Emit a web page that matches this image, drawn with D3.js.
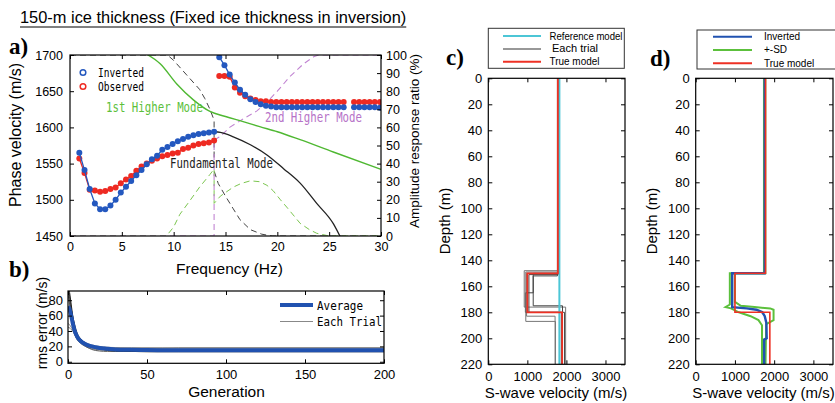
<!DOCTYPE html>
<html><head><meta charset="utf-8">
<script src="https://cdn.jsdelivr.net/npm/d3@7"></script>
<style>
body{margin:0;background:#fff}
svg{display:block}
text{font-family:"Liberation Sans",Arial,sans-serif;fill:#000}
.mono{font-family:"DejaVu Sans Mono","Liberation Mono",monospace}
.lbl{font-family:"Liberation Serif","Times New Roman",serif;font-weight:bold}
</style>
</head><body>
<svg id="chart" width="835" height="403"></svg>
<script>
// ---------- Panel a data ----------
const fundFreq = [0.9,1.4,1.9,2.4,2.9,3.4,3.9,4.4,4.9,5.4,5.9,6.4,6.9,7.4,7.9,8.4,8.9,9.4,9.9,10.4,10.9,11.4,11.9,12.4,12.9,13.4,13.9];
const fundInverted = [1565,1541,1515,1495,1487,1487,1492,1500,1510,1518,1526,1534,1541,1549,1556,1561,1569,1573,1577,1581,1584,1587,1589,1591,1592,1593,1594];
const fundObserved = [1557,1537,1514,1513,1511,1512,1515,1517,1523,1528,1533,1540,1546,1550,1554,1557,1560,1562,1564,1565,1570,1572,1575,1577,1578,1579,1582];
const secFreq = [14.4,14.9,15.4,15.9,16.4,16.9,17.4,17.9,18.4,18.9,19.4,19.9,20.4,20.9,21.4,21.9,22.4,22.9,23.4,23.9,24.4,24.9,25.4,25.9,26.4,26.9,27.4,27.9,28.4,28.9,29.4,29.9];
const secInverted = [1697,1686,1673,1662,1652,1645,1639,1635,1632,1630,1629,1628,1628,1628,1628,1628,1628,1628,1628,1628,1628,1628,1628,1628,1628,null,1628,1628,1628,1628,1628,1627];
const secObserved = [1671,1671,1670,1655,1648,1643,1640,1638,1636,1636,1635,1635,1635,1635,1635,1635,1635,1635,1635,1635,1635,1635,1635,1635,1635,null,1635,1635,1635,1635,1635,1635];
const firstModeFreq = [7.3,8.7,10.3,11.9,13.5,15,16.7,18.3,20,22.2,25.4,30];
const firstModeVel = [1702,1688,1660,1638,1622,1615,1608,1601,1594,1583,1566,1542];
const fundModeFreq = [13.9,14.5,15.75,17.4,19,20.6,22.2,23.8,25.4,26.1];
const fundModeVel = [1594,1593,1587,1576,1562,1543,1523,1495,1467,1448];
const ampFundFreq = [0,9.4,10,11.25,12.5,13,13.5,13.9,13.9,14.3,15,15.75,16.4,17.4,18.5,19.5,30];
const ampFund = [100,100,97,89,81,76,70,64,36,29,22,15,9,3.5,1,0,0];
const ampFirstFreq = [0,9.3,10,10.6,11.5,12.5,13.5,13.9,13.9,14.5,15.75,16.5,17.4,18.3,19,19.6,20.3,20.9,22.2,23.1,23.8,25,30];
const ampFirst = [0,0,5,12,19,27,34,37,18,22,27,29,30.5,30,28,25,20,16,7,3.5,1.5,0,0];
const ampSecondFreq = [0,13.9,13.9,14.5,15.4,16.5,18,19,20,21.2,22.5,23.5,24,30];
const ampSecond = [0,0,53,55,60,64,69,74,80,88,95,99,100,100];
const aXTicks = [0,5,10,15,20,25,30];
const aYTicks = [1450,1500,1550,1600,1650,1700];
const aRTicks = [0,10,20,30,40,50,60,70,80,90,100];

// ---------- Panel b data ----------
const generations = [0,1,2,3,4,5,6,8,10,12,15,20,25,30,40,50,70,100,150,200];
const rmsAverage = [72,68,60,50,42,36,32,27,24,22,20,18,17,16,15.5,15.2,15,15,15,15];
const rmsTrials = [
  [95,85,70,58,48,40,34,28,25,22,20,18,17.5,17.5,17.5,17.5,18,18,18,18],
  [92,80,62,50,40,34,30,25,22,20,18,16,15,14.5,14,14,14,14,14,14],
  [45,44,42,40,36,32,29,25,22,19,17,15.5,15,14.5,14.5,14.5,14.5,14.5,14.5,14.5],
  [88,75,60,48,38,32,28,24,21,19,16,14,13.5,13.5,13.5,13.5,13.5,13.5,13.5,13.5],
  [70,66,58,49,42,37,33,29,26,24,22,20,19,18.5,18.5,18.5,18,18,18,18],
  [93,82,66,52,43,37,31,26,23,21,19,17,16.5,16,16,15.5,15.5,15.5,15.5,15.5],
  [50,48,45,41,37,33,30,27,24,22,21,19,18,18,17,17,16.5,16.5,16.5,16.5],
  [98,90,75,60,50,42,36,30,26,23,20,17,15,14,13.5,13,13,13,13,13]
];
const trialShade = ["#333","#888","#777","#555","#999","#444","#888","#222"];
const bXTicks = [0,50,100,150,200];
const bYTicks = [0,20,40,60,80];

// ---------- Panel c / d data ----------
const depthTicks = [0,20,40,60,80,100,120,140,160,180,200,220];
const velTicks = [0,1000,2000,3000];
const trueDepths = [0,150,180,220];
const trueVels = [1780,1000,1890];
const refDepths = [0,220];
const refVels = [1820];
const trialDepths = [
  [0,148,176,220],[0,152,175,220],[0,150,183,220],[0,150,165,180,220],[0,149,187,220],[0,151,180,220]
];
const trialVels = [
  [1780,920,1980],[1770,1150,1900],[1785,980,1710],[1775,1150,950,1950],[1780,960,1720],[1790,1040,1870]
];
const invDepth = [0,150,150,176,177,178,180,183,188,200,201,220];
const invVel = [1760,1760,930,930,1300,1550,1700,1760,1800,1810,1745,1745];
const sdLowDepth = [0,150,150,174,176,177,180,183,186,190,220];
const sdLowVel = [1740,1740,870,870,760,900,1100,1400,1600,1690,1690];
const sdHighDepth = [0,150,150,172,175,176,177,178,186,189,200,220];
const sdHighVel = [1775,1775,1000,1000,1150,1500,1900,1985,1985,1800,1790,1780];

// ---------- drawing ----------
const svg = d3.select("#chart");
const defs = svg.append("defs");
const fmt = d3.format("d");

function frameAxes(g, x, y, opts){
  const [x0,x1] = x.range();
  const yb = Math.max(...y.range()), yt = Math.min(...y.range());
  const st = sel => { sel.select(".domain").remove(); sel.selectAll("text").style("font-size", opts.fs+"px"); sel.selectAll("line").attr("stroke","#000"); };
  g.append("g").attr("transform",`translate(0,${yb})`)
    .call(d3.axisBottom(x).tickValues(opts.xt).tickFormat(fmt).tickSize(-4).tickPadding(opts.xpad)).call(st);
  g.append("g").attr("transform",`translate(0,${yt})`)
    .call(d3.axisTop(x).tickValues(opts.xt).tickSize(-4).tickFormat("")).call(st);
  g.append("g").attr("transform",`translate(${x0},0)`)
    .call(d3.axisLeft(y).tickValues(opts.yt).tickFormat(fmt).tickSize(-4).tickPadding(opts.ypad)).call(st);
  if (opts.rt) {
    g.append("g").attr("transform",`translate(${x1},0)`)
      .call(d3.axisRight(opts.rs).tickValues(opts.rt).tickFormat(fmt).tickSize(-4).tickPadding(5)).call(st);
  } else {
    g.append("g").attr("transform",`translate(${x1},0)`)
      .call(d3.axisRight(y).tickValues(opts.yt).tickSize(-4).tickFormat("")).call(st);
  }
  g.append("rect").attr("x",x0).attr("y",yt).attr("width",x1-x0).attr("height",yb-yt)
    .attr("fill","none").attr("stroke","#000").attr("stroke-width",1.2);
}
function clip(id,x,y){
  const [x0,x1]=x.range();
  const yb = Math.max(...y.range()), yt = Math.min(...y.range());
  defs.append("clipPath").attr("id",id).append("rect")
    .attr("x",x0).attr("y",yt).attr("width",x1-x0).attr("height",yb-yt);
  return `url(#${id})`;
}

// Title
const title = svg.append("text").attr("x",20).attr("y",23).style("font-size","16.4px")
  .text("150-m ice thickness (Fixed ice thickness in inversion)");
const tw = title.node().getComputedTextLength();
svg.append("line").attr("x1",20).attr("x2",20+tw).attr("y1",27).attr("y2",27).attr("stroke","#000").attr("stroke-width",1);

// ----- Panel a -----
const ax = d3.scaleLinear([0,30],[70,381]);
const ay = d3.scaleLinear([1450,1700],[236,55]);
const ar = d3.scaleLinear([0,100],[236,55]);
const ga = svg.append("g");
const pa = ga.append("g").attr("clip-path", clip("ca",ax,ay));
const ampLine = (fs, vs) => d3.line().x((d,i)=>ax(fs[i])).y(d=>ar(d))(vs);
pa.append("path").attr("d",ampLine(ampFundFreq,ampFund)).attr("fill","none").attr("stroke","#444").attr("stroke-width",1).attr("stroke-dasharray","6,4");
pa.append("path").attr("d",ampLine(ampFirstFreq,ampFirst)).attr("fill","none").attr("stroke","#7cc650").attr("stroke-width",1).attr("stroke-dasharray","6,4");
pa.append("path").attr("d",ampLine(ampSecondFreq,ampSecond)).attr("fill","none").attr("stroke","#c184d2").attr("stroke-width",1.1).attr("stroke-dasharray","6,4");
const velLine = (fs, vs) => d3.line().defined(d=>d!=null).x((d,i)=>ax(fs[i])).y(d=>ay(d)).curve(d3.curveMonotoneX)(vs);
pa.append("path").attr("d",velLine(firstModeFreq,firstModeVel)).attr("fill","none").attr("stroke","#4fb832").attr("stroke-width",1.4);
pa.append("path").attr("d",velLine(fundModeFreq,fundModeVel)).attr("fill","none").attr("stroke","#222").attr("stroke-width",1.3);
function pts(fs, vs, col){
  const ln = d3.line().defined(d=>d!=null).x((d,i)=>ax(fs[i])).y(d=>ay(d));
  pa.append("path").attr("d",ln(vs)).attr("fill","none").attr("stroke",col).attr("stroke-width",1.3);
  pa.append("g").selectAll("circle").data(vs.map((v,i)=>[fs[i],v]).filter(d=>d[1]!=null)).join("circle")
    .attr("cx",d=>ax(d[0])).attr("cy",d=>ay(d[1])).attr("r",3).attr("fill",col);
}
pts(fundFreq,fundObserved,"#ee2a22");
pts(secFreq,secObserved,"#ee2a22");
pts(fundFreq,fundInverted,"#2458bf");
pts(secFreq,secInverted,"#2458bf");
frameAxes(ga, ax, ay, {xt:aXTicks, yt:aYTicks, fs:12.5, xpad:6, ypad:7, rt:aRTicks, rs:ar});
// legend a
ga.append("circle").attr("cx",83).attr("cy",72.5).attr("r",2.8).attr("fill","none").attr("stroke","#2458bf").attr("stroke-width",1.5);
ga.append("circle").attr("cx",83).attr("cy",86.5).attr("r",2.8).attr("fill","none").attr("stroke","#ee2a22").attr("stroke-width",1.5);
ga.append("text").attr("class","mono").attr("x",98).attr("y",77).attr("textLength",46).attr("lengthAdjust","spacingAndGlyphs").style("font-size","12px").text("Inverted");
ga.append("text").attr("class","mono").attr("x",98).attr("y",90.5).attr("textLength",46).attr("lengthAdjust","spacingAndGlyphs").style("font-size","12px").text("Observed");
ga.append("text").attr("class","mono").attr("x",106).attr("y",112).attr("textLength",97).attr("lengthAdjust","spacingAndGlyphs").style("font-size","13.5px").style("fill","#5cbf3c").text("1st Higher Mode");
ga.append("text").attr("class","mono").attr("x",170).attr("y",168).attr("textLength",103).attr("lengthAdjust","spacingAndGlyphs").style("font-size","13.5px").style("fill","#222").text("Fundamental Mode");
ga.append("text").attr("class","mono").attr("x",265).attr("y",121.5).attr("textLength",97).attr("lengthAdjust","spacingAndGlyphs").style("font-size","13.5px").style("fill","#b673c8").text("2nd Higher Mode");
ga.append("text").attr("transform","translate(21,135) rotate(-90)").attr("text-anchor","middle").style("font-size","16px").text("Phase velocity (m/s)");
ga.append("text").attr("transform","translate(419,141) rotate(-90)").attr("text-anchor","middle").style("font-size","13.5px").text("Amplitude response ratio (%)");
ga.append("text").attr("x",229.5).attr("y",274).attr("text-anchor","middle").style("font-size","15.5px").text("Frequency (Hz)");
svg.append("text").attr("class","lbl").attr("x",9).attr("y",54).style("font-size","23px").text("a)");

// ----- Panel b -----
const bx = d3.scaleLinear([0,200],[68,384]);
const by = d3.scaleLinear([-2,92],[363.3,291]);
const gb = svg.append("g");
const pb = gb.append("g").attr("clip-path", clip("cb",bx,by));
const bl = d3.line().x((d,i)=>bx(generations[i])).y(d=>by(d)).curve(d3.curveMonotoneX);
rmsTrials.forEach((t,k)=>{
  pb.append("path").attr("d",bl(t)).attr("fill","none").attr("stroke",trialShade[k]).attr("stroke-width",1);
});
pb.append("path").attr("d",bl(rmsAverage)).attr("fill","none").attr("stroke","#2152b0").attr("stroke-width",4);
frameAxes(gb, bx, by, {xt:bXTicks, yt:bYTicks, fs:13, xpad:6, ypad:5});
gb.append("line").attr("x1",280).attr("x2",313).attr("y1",305).attr("y2",305).attr("stroke","#2152b0").attr("stroke-width",4);
gb.append("line").attr("x1",280).attr("x2",313).attr("y1",321.5).attr("y2",321.5).attr("stroke","#888").attr("stroke-width",1.2);
gb.append("text").attr("class","mono").attr("x",317).attr("y",309.5).attr("textLength",46).attr("lengthAdjust","spacingAndGlyphs").style("font-size","12.5px").text("Average");
gb.append("text").attr("class","mono").attr("x",317).attr("y",326).attr("textLength",65).attr("lengthAdjust","spacingAndGlyphs").style("font-size","12.5px").text("Each Trial");
gb.append("text").attr("transform","translate(47,323) rotate(-90)").attr("text-anchor","middle").style("font-size","14px").text("rms error (m/s)");
gb.append("text").attr("x",226.5).attr("y",397).attr("text-anchor","middle").style("font-size","15.5px").text("Generation");
svg.append("text").attr("class","lbl").attr("x",9).attr("y",277).style("font-size","23px").text("b)");

// ----- Panels c / d helpers -----
function stepPoints(depths, vels){
  const out=[];
  vels.forEach((v,i)=>{ out.push([v,depths[i]]); out.push([v,depths[i+1]]); });
  return out;
}
function profilePanel(x, y, id){
  const g = svg.append("g");
  const p = g.append("g").attr("clip-path", clip(id,x,y));
  return {g,p,line:d3.line().x(d=>x(d[0])).y(d=>y(d[1]))};
}
const cy = d3.scaleLinear([0,220],[78.3,364.3]);
// ----- Panel c -----
const cx = d3.scaleLinear([0,3500],[488.3,625]);
const C = profilePanel(cx, cy, "cc");
trialDepths.forEach((dp,k)=>{
  C.p.append("path").attr("d",C.line(stepPoints(dp,trialVels[k]))).attr("fill","none")
    .attr("stroke", k%2? "#444":"#777").attr("stroke-width",1);
});
C.p.append("path").attr("d",C.line(stepPoints(refDepths,refVels))).attr("fill","none").attr("stroke","#4cc6d6").attr("stroke-width",2);
C.p.append("path").attr("d",C.line(stepPoints(trueDepths,trueVels))).attr("fill","none").attr("stroke","#ee3124").attr("stroke-width",1.8);
frameAxes(C.g, cx, cy, {xt:velTicks, yt:depthTicks, fs:13, xpad:7, ypad:6});
C.g.append("rect").attr("x",488.3).attr("y",28.3).attr("width",136).attr("height",40).attr("fill","#fff").attr("stroke","#333").attr("stroke-width",1);
[["Reference model","#4cc6d6",36,39.5,73],["Each trial","#333",49,52,46],["True model","#ee3124",61.7,65,50]].forEach(([t,c,ly,ty,tl],i)=>{
  C.g.append("line").attr("x1",503).attr("x2",541).attr("y1",ly).attr("y2",ly).attr("stroke",c).attr("stroke-width",i==1?1.2:2);
  C.g.append("text").attr("x",i==1?552:549.5).attr("y",ty).attr("textLength",tl).attr("lengthAdjust","spacingAndGlyphs").style("font-size","10px").text(t);
});
C.g.append("text").attr("transform","translate(450,221) rotate(-90)").attr("text-anchor","middle").style("font-size","15px").text("Depth (m)");
C.g.append("text").attr("x",556).attr("y",398).attr("text-anchor","middle").style("font-size","15px").text("S-wave velocity (m/s)");
svg.append("text").attr("class","lbl").attr("x",446).attr("y",65).style("font-size","23px").text("c)");

// ----- Panel d -----
const dx = d3.scaleLinear([0,3500],[695.7,833]);
const D = profilePanel(dx, cy, "cd");
const pl = (dep, vel) => D.line(dep.map((d,i)=>[vel[i],d]));
D.p.append("path").attr("d",pl(sdLowDepth,sdLowVel)).attr("fill","none").attr("stroke","#5cc03c").attr("stroke-width",2);
D.p.append("path").attr("d",pl(sdHighDepth,sdHighVel)).attr("fill","none").attr("stroke","#5cc03c").attr("stroke-width",2);
D.p.append("path").attr("d",pl(invDepth,invVel)).attr("fill","none").attr("stroke","#2152b0").attr("stroke-width",2.4);
D.p.append("path").attr("d",D.line(stepPoints(trueDepths,trueVels))).attr("fill","none").attr("stroke","#ee3124").attr("stroke-width",1.6);
frameAxes(D.g, dx, cy, {xt:velTicks, yt:depthTicks, fs:13, xpad:7, ypad:6});
D.g.append("rect").attr("x",697).attr("y",30).attr("width",140).attr("height",39).attr("fill","#fff").attr("stroke","#333").attr("stroke-width",1);
[["Inverted","#2152b0",36.7,40],["+-SD","#5cc03c",50,53],["True model","#ee3124",63.3,66.5]].forEach(([t,c,ly,ty])=>{
  D.g.append("line").attr("x1",713).attr("x2",752).attr("y1",ly).attr("y2",ly).attr("stroke",c).attr("stroke-width",2);
  D.g.append("text").attr("x",764).attr("y",ty).style("font-size","10px").text(t);
});
D.g.append("text").attr("transform","translate(657,221) rotate(-90)").attr("text-anchor","middle").style("font-size","15px").text("Depth (m)");
D.g.append("text").attr("x",763.5).attr("y",398).attr("text-anchor","middle").style("font-size","15px").text("S-wave velocity (m/s)");
svg.append("text").attr("class","lbl").attr("x",650).attr("y",66).style("font-size","23px").text("d)");
</script>
</body></html>
